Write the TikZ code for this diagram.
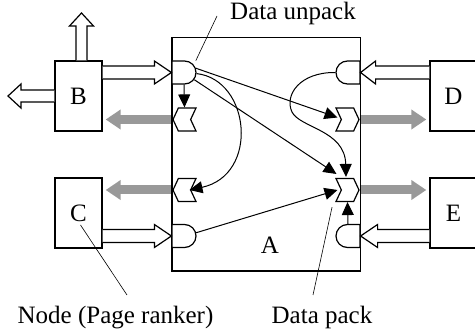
\documentclass[tikz,border=0pt]{standalone}
\usepackage{fontspec}
\setmainfont{Liberation Serif}
\usetikzlibrary{arrows.meta,calc,shapes.misc,shapes.symbols}

% hollow block arrow: #1 tail, #2 tip, #3 head length, #4 shaft half width, #5 head half width
\newcommand\hollowarrow[5]{%
  \coordinate (hb) at ($(#2)!#3!(#1)$);
  \draw[hollow] ($(#1)!#4!90:(#2)$) -- ($(hb)!#4!90:(#2)$) -- ($(hb)!#5!90:(#2)$)
    -- (#2) -- ($(hb)!#5!-90:(#2)$) -- ($(hb)!#4!-90:(#2)$) -- ($(#1)!#4!-90:(#2)$);
}

\begin{document}
\begin{tikzpicture}[x=1pt,y=-1pt,
  lbl/.style={font=\fontsize{25}{30}\selectfont,inner sep=0pt},
  box/.style={draw,line width=1.3pt,minimum width=47pt,minimum height=70pt,inner sep=0pt},
  unpackbase/.style={draw,line width=1.2pt,fill=white,rounded rectangle,
    minimum width=24pt,minimum height=23pt,inner sep=0pt},
  unpackL/.style={unpackbase,rounded rectangle left arc=none},
  unpackR/.style={unpackbase,rounded rectangle right arc=none},
  packbase/.style={draw,line width=1.2pt,fill=white,signal,signal pointer angle=130,
    minimum width=23pt,minimum height=23pt,inner sep=0pt},
  packL/.style={packbase,signal to=west,signal from=east},
  packR/.style={packbase,signal to=east,signal from=west},
  flow/.style={line width=1pt,-{Triangle[length=13pt,width=12pt]}},
  grayarrow/.style={line width=9pt,draw=gray!80,-{Triangle[length=15pt,width=19pt]},
    shorten <=0.7pt,shorten >=3pt},
  hollow/.style={line width=1.2pt,fill=white,line join=miter},
  leader/.style={line width=0.6pt}
]
\useasboundingbox (0,0) rectangle (475,334);

% peripheral nodes
\node[box,lbl] (B) at (78.5,96) {B};
\node[box,lbl] (C) at (78.5,213) {C};
\node[box,lbl] (D) at (453.5,96) {D};
\node[box,lbl] (E) at (453.5,213) {E};

% main node A
\node[minimum width=188pt,minimum height=233pt,inner sep=0pt] (A) at (266,154.5) {};
\node[lbl] (Alabel) at (270,245.5) {A};

% outgoing data streams (grey)
\draw[grayarrow] (A.west |- 0,119.5) -- (B.east |- 0,119.5);
\draw[grayarrow] (A.west |- 0,190) -- (C.east |- 0,190);
\draw[grayarrow] (A.east |- 0,119.5) -- (D.west |- 0,119.5);
\draw[grayarrow] (A.east |- 0,190) -- (E.west |- 0,190);
\draw[line width=1.4pt] (A.north west) rectangle (A.south east);

% unpack and pack ports
\node[unpackL] (uB) at (184,72.5) {};
\node[unpackL] (uC) at (184,236) {};
\node[unpackR] (uD) at (348,72.5) {};
\node[unpackR] (uE) at (348,236) {};
\node[packL] (pB) at (184.5,119.5) {};
\node[packL] (pC) at (184.5,190) {};
\node[packR] (pD) at (347.5,119.5) {};
\node[packR] (pE) at (347.5,190) {};

% incoming hollow arrows
\hollowarrow{B.east |- uB.west}{uB.west}{17pt}{6.5pt}{11.5pt}
\hollowarrow{C.east |- uC.west}{uC.west}{17pt}{6.5pt}{11.5pt}
\hollowarrow{D.west |- uD.east}{uD.east}{15pt}{6.5pt}{11.5pt}
\hollowarrow{E.west |- uE.east}{uE.east}{17pt}{6.5pt}{11.5pt}
\coordinate (Bup) at (81.5,13);
\coordinate (Bleft) at (8,96);
\hollowarrow{Bup |- B.north}{Bup}{13pt}{5.5pt}{12pt}
\hollowarrow{B.west}{Bleft}{13pt}{6pt}{12pt}

% internal routing
\draw[flow] (uB.south) -- (pB.north);
\draw[flow] (uB.20) -- ($(pD.center)+(-10,-2)$);
\draw[flow] (uB.-35) -- ($(pE.center)+(-11,-16)$);
\draw[flow] (uB.-5) .. controls +(54,6) and +(70,-15) .. ($(pC.center)+(5,0)$);
\draw[flow] (uD.west) .. controls (300,72) and (284,95) .. (292,112)
  .. controls (300,128) and (345,130) .. ($(pE.north)+(-1.5,-1)$);
\draw[flow] (uC.15) -- ($(pE.center)+(-10,0)$);
\draw[flow] (uE.north) -- (pE.south);

% captions with leader lines
\node[lbl,anchor=base west] (tunpack) at (230,20) {Data unpack};
\node[lbl,anchor=base] (tnode) at (115.5,324) {Node (Page ranker)};
\node[lbl,anchor=base] (tpack) at (322,324) {Data pack};
\coordinate (lu) at (217,16);
\coordinate (ln) at (127,295);
\coordinate (lp) at (313,295);
\draw[leader] ($(uB.45)+(3,-3)$) -- (lu);
\draw[leader] ($(C.center)+(2,12)$) -- (ln);
\draw[leader] ($(pE.south west)+(-3,5)$) -- (lp);
\end{tikzpicture}
\end{document}
